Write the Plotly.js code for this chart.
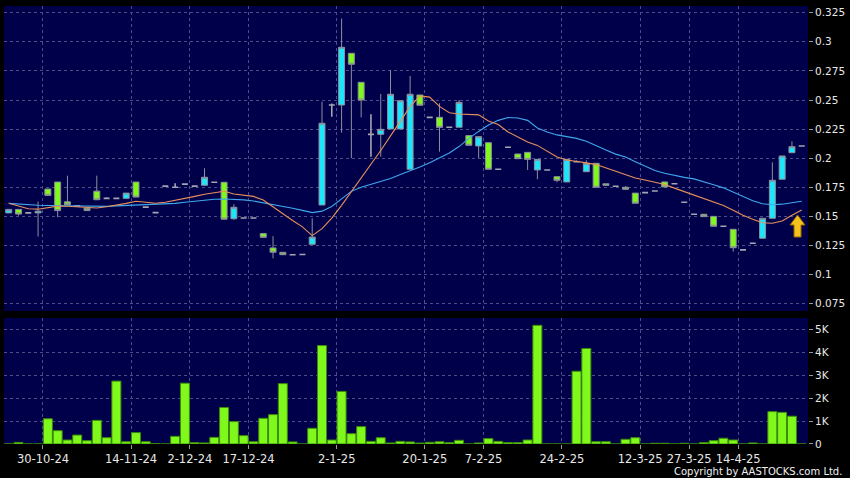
<!DOCTYPE html>
<html><head><meta charset="utf-8">
<script src="https://cdn.plot.ly/plotly-3.0.1.min.js"></script>
<style>html,body{margin:0;padding:0;background:#000;}#chart{width:850px;height:478px;}</style>
</head><body><div id="chart"></div>
<script>
// ---- data (one entry per trading day shown on the chart) ----
const openP = [0.153,0.156,0.153,0.153,0.1735,0.1795,0.1625,0.159,0.157,0.1717,
0.1655,0.1655,0.1655,0.1795,0.158,0.1532,0.176,0.175,0.1777,0.176,
0.1767,0.1793,0.1793,0.148,0.1486,0.1486,0.1352,0.1229,0.1191,0.117,
0.1173,0.126,0.1598,0.2457,0.2457,0.2901,0.2652,0.2205,0.2205,0.2251,
0.2251,0.1905,0.2543,0.2351,0.2351,0.2266,0.2266,0.2194,0.2105,0.2133,
0.1905,0.2094,0.2036,0.205,0.1899,0.1899,0.1841,0.1796,0.197,0.1884,
0.1956,0.178,0.1759,0.175,0.170,0.1704,0.1718,0.1796,0.1781,0.1621,
0.1518,0.1518,0.150,0.1415,0.1389,0.1212,0.1269,0.1312,0.1484,0.1819,
0.2047,0.2105];
const highP = [0.156,0.156,0.153,0.1628,0.1735,0.1795,0.185,0.159,0.157,0.185,
0.1665,0.1655,0.170,0.1795,0.158,0.1532,0.176,0.1785,0.1777,0.176,
0.1913,0.1793,0.1793,0.1605,0.1486,0.1486,0.1352,0.133,0.1191,0.117,
0.1173,0.1484,0.2485,0.247,0.320,0.2901,0.2652,0.2377,0.2552,0.2758,
0.2494,0.2706,0.2543,0.2351,0.2472,0.2266,0.250,0.2194,0.2185,0.2133,
0.1905,0.2094,0.2036,0.205,0.199,0.1899,0.1841,0.1996,0.198,0.1982,
0.1956,0.178,0.1759,0.176,0.170,0.1704,0.1718,0.1796,0.1781,0.1621,
0.1518,0.1518,0.150,0.1415,0.1389,0.1212,0.1269,0.1484,0.1965,0.2019,
0.2145,0.2105];
const lowP = [0.153,0.1506,0.153,0.1327,0.168,0.1494,0.160,0.159,0.155,0.1643,
0.1655,0.1655,0.1655,0.1666,0.158,0.1532,0.176,0.175,0.1777,0.176,
0.1767,0.1793,0.1469,0.1469,0.1486,0.1486,0.132,0.114,0.1171,0.117,
0.1173,0.126,0.1598,0.2357,0.222,0.200,0.2351,0.2013,0.2013,0.2251,
0.2251,0.1905,0.2455,0.2351,0.2056,0.2266,0.2266,0.2111,0.200,0.1905,
0.1905,0.2094,0.1996,0.1899,0.1819,0.1899,0.1793,0.1796,0.197,0.1884,
0.175,0.1767,0.1759,0.1733,0.1613,0.1704,0.1718,0.1753,0.1781,0.1621,
0.1518,0.1498,0.1415,0.1415,0.1197,0.1212,0.1269,0.1312,0.1484,0.1819,
0.2047,0.2105];
const closeP = [0.156,0.152,0.153,0.1545,0.168,0.155,0.160,0.159,0.155,0.1643,
0.1655,0.1655,0.170,0.1666,0.158,0.1532,0.176,0.175,0.1777,0.176,
0.1836,0.1793,0.1476,0.1578,0.1486,0.1486,0.132,0.1192,0.1171,0.117,
0.1173,0.1322,0.230,0.2457,0.2953,0.2807,0.250,0.2205,0.2248,0.2549,
0.2494,0.2549,0.2455,0.2351,0.2265,0.2266,0.248,0.2111,0.2185,0.1905,
0.1905,0.2094,0.1996,0.199,0.199,0.1899,0.181,0.199,0.197,0.1956,
0.175,0.1767,0.1759,0.1733,0.1613,0.1704,0.1718,0.1753,0.1781,0.1621,
0.1518,0.1498,0.1415,0.1415,0.1231,0.1212,0.1269,0.1484,0.181,0.2019,
0.2099,0.2105];
const volume = [0,70,0,0,1100,580,175,390,145,1030,
275,2740,100,495,100,15,0,335,2650,60,
45,290,1590,975,365,100,1120,1280,2630,90,
0,685,4290,175,2290,450,757,115,275,45,
115,90,40,75,100,60,160,0,45,235,
115,60,60,175,5170,0,0,0,3170,4160,
100,100,0,205,275,0,30,30,0,30,
0,60,145,250,175,0,45,0,1410,1380,
1210,0];
const ma10 = [0.1613,0.1590,0.1566,0.1562,0.1572,0.1588,0.1587,0.1583,0.1576,0.1572,
0.1583,0.1595,0.1612,0.1630,0.1620,0.1613,0.1621,0.1640,0.1658,0.1672,
0.1690,0.1705,0.1716,0.1692,0.1682,0.1672,0.1640,0.1580,0.1520,0.1465,
0.1410,0.1335,0.1395,0.1485,0.1595,0.1712,0.1838,0.1957,0.2066,0.2192,
0.2320,0.2443,0.2535,0.2525,0.2445,0.2390,0.2380,0.2378,0.2372,0.2320,
0.2290,0.2225,0.2180,0.2140,0.2110,0.2060,0.2010,0.1985,0.1975,0.1960,
0.1945,0.1915,0.1887,0.1860,0.1830,0.1812,0.1795,0.1774,0.1743,0.1712,
0.1681,0.1651,0.1622,0.1593,0.1553,0.1510,0.1476,0.1445,0.1441,0.1460,
0.1510,0.1555];
const ma20 = [0.1612,0.1605,0.1600,0.1596,0.1594,0.1592,0.1590,0.1588,0.1585,0.1584,
0.1586,0.1590,0.1594,0.1597,0.1598,0.1600,0.1605,0.1612,0.1622,0.1632,
0.1640,0.1647,0.1650,0.1647,0.1642,0.1632,0.1618,0.1600,0.1585,0.1570,
0.1552,0.1532,0.1545,0.1585,0.1650,0.1715,0.1750,0.1775,0.1795,0.1825,
0.1860,0.1890,0.1925,0.1960,0.2005,0.2045,0.2100,0.2170,0.2230,0.2285,
0.2325,0.2350,0.2345,0.2325,0.2260,0.2225,0.2200,0.2185,0.2170,0.2145,
0.2105,0.2070,0.2035,0.2010,0.1970,0.1930,0.1895,0.1870,0.1850,0.1835,
0.1822,0.1800,0.1772,0.1745,0.1710,0.1670,0.1635,0.1608,0.1600,0.1605,
0.1620,0.1630];
const tickDayIndex = [4,13,19,25,34,43,49,57,65,70,75];
const tickLabels = ['30-10-24','14-11-24','2-12-24','17-12-24','2-1-25','20-1-25','7-2-25','24-2-25','12-3-25','27-3-25','14-4-25'];
const priceTickVals = [0.075,0.1,0.125,0.15,0.175,0.2,0.225,0.25,0.275,0.3,0.325];
const priceTickText = ['0.075','0.1','0.125','0.15','0.175','0.2','0.225','0.25','0.275','0.3','0.325'];
const volTickVals = [0,1000,2000,3000,4000,5000];
const volTickText = ['0','1K','2K','3K','4K','5K'];

// ---- build traces ----
const idx = openP.map((_, i) => i);
function subset(test) {
  const s = {x: [], open: [], high: [], low: [], close: []};
  idx.forEach(i => {
    if (test(openP[i], closeP[i])) {
      s.x.push(i); s.open.push(openP[i]); s.high.push(highP[i]);
      s.low.push(lowP[i]); s.close.push(closeP[i]);
    }
  });
  return s;
}
const edge = '#8e8e9e';
function candle(s, fill, lw) {
  return Object.assign({type: 'candlestick', xaxis: 'x', yaxis: 'y', whiskerwidth: 0,
    hoverinfo: 'skip',
    increasing: {line: {color: edge, width: lw}, fillcolor: fill},
    decreasing: {line: {color: edge, width: lw}, fillcolor: fill}}, s);
}
const upTrace = candle(subset((o, c) => c > o), '#1ee6fa', 1);
const downTrace = candle(subset((o, c) => c < o), '#80f81c', 1);
const flatTrace = candle(subset((o, c) => c === o), '#a0a0b0', 1.6);
flatTrace.increasing.line.color = '#a4a4b4';
flatTrace.decreasing.line.color = '#a4a4b4';

const ma10Trace = {type: 'scatter', mode: 'lines', x: idx, y: ma10, xaxis: 'x', yaxis: 'y',
  line: {color: '#e8905c', width: 1.1}, hoverinfo: 'skip'};
const ma20Trace = {type: 'scatter', mode: 'lines', x: idx, y: ma20, xaxis: 'x', yaxis: 'y',
  line: {color: '#3ea8ee', width: 1.1}, hoverinfo: 'skip'};
const volTrace = {type: 'bar', x: idx, y: volume, xaxis: 'x', yaxis: 'y2',
  marker: {color: '#80f81c', line: {color: '#3a8c08', width: 1}}, hoverinfo: 'skip'};

const gridC = '#4c4c86';
const tickFont = {family: 'DejaVu Sans', size: 10.5, color: '#e8e8e8'};
const layout = {
  width: 850, height: 478,
  margin: {l: 4, r: 42, t: 6, b: 34},
  paper_bgcolor: '#000000', plot_bgcolor: '#00004a',
  showlegend: false, hovermode: false,
  boxgap: 0.13, bargap: 0.08,
  xaxis: {type: 'linear', range: [-0.48, 81.64], anchor: 'y2',
    rangeslider: {visible: false},
    tickmode: 'array', tickvals: tickDayIndex.map(i => i - 0.5), ticktext: tickLabels,
    showgrid: true, gridcolor: gridC, griddash: '3px,3px', gridwidth: 1,
    ticks: 'outside', ticklen: 4, tickcolor: '#9a9a9a',
    zeroline: false, showline: false,
    tickfont: {family: 'DejaVu Sans', size: 11.5, color: '#e8e8e8'}},
  yaxis: {domain: [0.3037, 1], range: [0.06873, 0.33076], side: 'right', anchor: 'x',
    tickmode: 'array', tickvals: priceTickVals, ticktext: priceTickText,
    showgrid: true, gridcolor: gridC, griddash: '3px,3px',
    ticks: 'outside', ticklen: 4, tickcolor: '#9a9a9a',
    zeroline: false, showline: false, tickfont: tickFont},
  yaxis2: {domain: [0, 0.2877], range: [0, 5490], side: 'right', anchor: 'x',
    tickmode: 'array', tickvals: volTickVals, ticktext: volTickText,
    showgrid: true, gridcolor: gridC, griddash: '3px,3px',
    ticks: 'outside', ticklen: 4, tickcolor: '#9a9a9a',
    zeroline: false, showline: false, tickfont: tickFont},
  shapes: [
    {type: 'path', xref: 'x', yref: 'y', xsizemode: 'pixel', ysizemode: 'pixel',
     xanchor: 80.57, yanchor: 0.1323,
     path: 'M -3.5 0 L 3.5 0 L 3.5 12 L 7.5 12 L 0 22 L -7.5 12 L -3.5 12 Z',
     fillcolor: '#f4c21c', line: {color: '#9a6a00', width: 1}, layer: 'above'}
  ],
  annotations: [
    {xref: 'paper', yref: 'paper', x: 1.0448, y: -0.063, xanchor: 'right', yanchor: 'middle',
     text: 'Copyright by AASTOCKS.com Ltd.', showarrow: false,
     font: {family: 'DejaVu Sans', size: 10, color: '#f0f0f0'}}
  ]
};
Plotly.newPlot('chart', [upTrace, downTrace, flatTrace, volTrace, ma20Trace, ma10Trace], layout,
  {staticPlot: true, displayModeBar: false});
</script></body></html>
